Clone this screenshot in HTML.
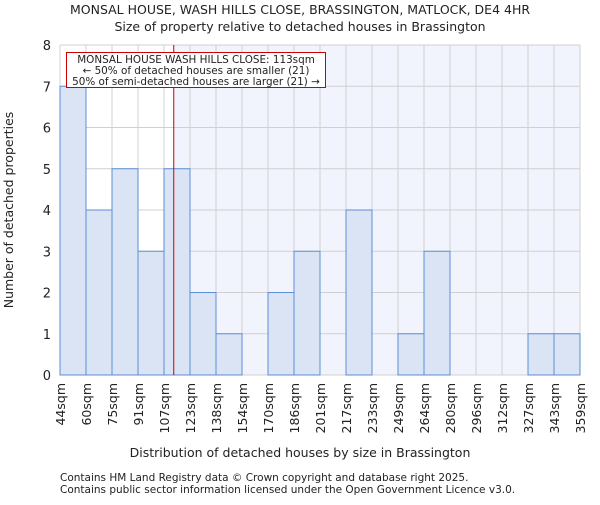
<!DOCTYPE html>
<html><head><meta charset="utf-8"><style>
body{margin:0;background:#fff;font-family:"Liberation Sans","DejaVu Sans",sans-serif}
svg text{font-family:"DejaVu Sans","Liberation Sans",sans-serif;fill:#222}
</style></head><body>
<svg id="c" width="600" height="500" xmlns="http://www.w3.org/2000/svg">
<text x="300" y="14" text-anchor="middle" font-size="12.5">MONSAL HOUSE, WASH HILLS CLOSE, BRASSINGTON, MATLOCK, DE4 4HR</text>
<text x="300" y="31" text-anchor="middle" font-size="12.5">Size of property relative to detached houses in Brassington</text>
<g id="plot"></g>
<text x="300" y="457" text-anchor="middle" font-size="12.5">Distribution of detached houses by size in Brassington</text>
<text transform="translate(13,210) rotate(-90)" text-anchor="middle" font-size="12.5">Number of detached properties</text>
<text x="60" y="481" font-size="10.5" fill="#444">Contains HM Land Registry data © Crown copyright and database right 2025.</text>
<text x="60" y="493" font-size="10.5" fill="#444">Contains public sector information licensed under the Open Government Licence v3.0.</text>
</svg>
<script>
const categories=["44sqm","60sqm","75sqm","91sqm","107sqm","123sqm","138sqm","154sqm","170sqm","186sqm","201sqm","217sqm","233sqm","249sqm","264sqm","280sqm","296sqm","312sqm","327sqm","343sqm","359sqm"];
const counts=[7,4,5,3,5,2,1,0,2,3,0,4,0,1,3,0,0,0,1,1];
const yTicks=[0,1,2,3,4,5,6,7,8];
const markerIndex=4+6/16;
const NS="http://www.w3.org/2000/svg";
const L=60,R=580,T=45,B=375,nb=counts.length,bw=(R-L)/nb;
const xs=i=>L+i*bw, ys=v=>B-(v/8)*(B-T);
const g=document.getElementById('plot');
function mk(t,a){const e=document.createElementNS(NS,t);for(const k in a)e.setAttribute(k,a[k]);g.appendChild(e);return e;}
const mx=xs(markerIndex);
let e=mk('rect',{x:mx,y:T,width:R-mx,height:B-T,fill:'#f2f4fd'});


for(let i=0;i<=nb;i++){e=mk('line',{x1:xs(i),x2:xs(i),y1:T,y2:B,stroke:'#d0d0d0','stroke-width':1});

}
yTicks.forEach(v=>{e=mk('line',{x1:L,x2:R,y1:ys(v),y2:ys(v),stroke:'#d0d0d0','stroke-width':1});


const t=mk('text',{x:L-9,y:ys(v)+5,'text-anchor':'end','font-size':13});t.textContent=v;

});
counts.forEach((v,i)=>{if(!v)return;e=mk('rect',{x:xs(i),y:ys(v),width:bw,height:B-ys(v),fill:'#dae4f4',stroke:'#5b8fd6','stroke-width':1});

});
categories.forEach((c,i)=>{const t=mk('text',{transform:`translate(${xs(i)+5},${B+8}) rotate(-90)`,'text-anchor':'end','font-size':12.5});t.textContent=c;

});
e=mk('line',{x1:mx,x2:mx,y1:T,y2:B,stroke:'#cc0000','stroke-width':1});


e=mk('rect',{x:66.5,y:52.5,width:259,height:35,fill:'#fff',stroke:'#cc0000','stroke-width':1});


["MONSAL HOUSE WASH HILLS CLOSE: 113sqm","← 50% of detached houses are smaller (21)","50% of semi-detached houses are larger (21) →"].forEach((s,k)=>{const t=mk('text',{x:196,y:63+k*11,'text-anchor':'middle','font-size':10.4});t.textContent=s;

});
</script>
</body></html>
